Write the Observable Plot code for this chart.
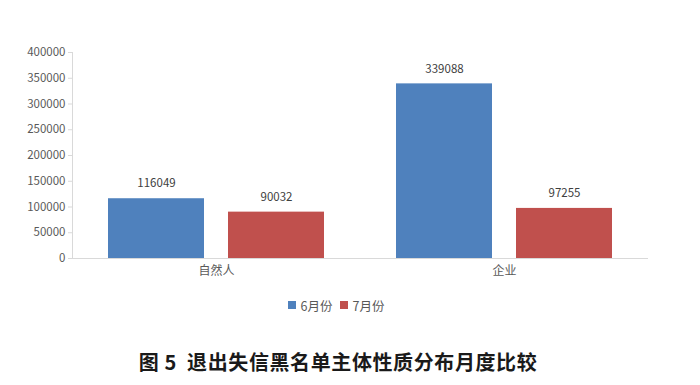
<!DOCTYPE html>
<html>
<head>
<meta charset="utf-8">
<script src="https://cdn.jsdelivr.net/npm/d3@7"></script>
<script src="https://cdn.jsdelivr.net/npm/@observablehq/plot@0.6"></script>
<style>
  body { margin: 0; background: #fff; font-family: "Noto Sans CJK SC", "Noto Sans", sans-serif; }
  #wrap { width: 700px; }
  .legend { display: flex; justify-content: center; align-items: center; gap: 7px; margin-top: 12px; font-size: 12.5px; color: #595959; height: 16px; padding-right: 28px; }
  .legend span.sw { display: inline-block; width: 8px; height: 8px; margin-right: 5px; }
  .legend .item { display: flex; align-items: center; }
  .title { text-align: center; font-weight: bold; font-size: 20px; color: #1a1a1a; margin-top: 34px; white-space: pre; padding-right: 24px; letter-spacing: 0.6px; }
</style>
</head>
<body>
<div id="wrap"></div>
<script>
const categories = ["自然人", "企业"];
const months = ["6月份", "7月份"];
const june = [116049, 339088];
const july = [90032, 97255];
const yTicks = [0, 50000, 100000, 150000, 200000, 250000, 300000, 350000, 400000];
const colors = ["#4f81bd", "#c0504d"];

const data = [];
categories.forEach((c, i) => {
  data.push({cat: c, month: months[0], value: june[i]});
  data.push({cat: c, month: months[1], value: july[i]});
});

const plot = Plot.plot({
  width: 700,
  height: 285,
  marginTop: 52,
  marginBottom: 27,
  marginLeft: 71,
  marginRight: 52,
  style: {fontFamily: "'Noto Sans CJK SC', 'Noto Sans', sans-serif", fontSize: "11px", color: "#595959"},
  fx: {domain: categories, padding: 0, label: null},
  x: {domain: months, paddingInner: 0.2, paddingOuter: 0.292, axis: null},
  y: {domain: [0, 400000], axis: null},
  color: {domain: months, range: colors},
  marks: [
    Plot.axisY({ticks: yTicks, tickSize: 4, tickPadding: 3, tickFormat: d => String(d), label: null, stroke: "#d9d9d9", color: "#595959", fontSize: 11.5}),
    Plot.frame({anchor: "left", stroke: "#d9d9d9", facetAnchor: "left"}),
    Plot.axisFx({anchor: "bottom", tickSize: 0, tickPadding: 8, label: null, fontSize: 12, color: "#595959"}),
    Plot.barY(data, {fx: "cat", x: "month", y: "value", fill: "month"}),
    Plot.ruleY([0], {stroke: "#d9d9d9"}),
    Plot.text(data, {fx: "cat", x: "month", y: "value", text: d => String(d.value), dy: -15, fontSize: 11.5, fill: "#404040"})
  ]
});

const wrap = document.getElementById("wrap");
wrap.appendChild(plot);

const legend = document.createElement("div");
legend.className = "legend";
months.forEach((m, i) => {
  const it = document.createElement("div");
  it.className = "item";
  it.innerHTML = `<span class="sw" style="background:${colors[i]}"></span>${m}`;
  legend.appendChild(it);
});
wrap.appendChild(legend);

const title = document.createElement("div");
title.className = "title";
title.textContent = "图 5  退出失信黑名单主体性质分布月度比较";
wrap.appendChild(title);
</script>
</body>
</html>
